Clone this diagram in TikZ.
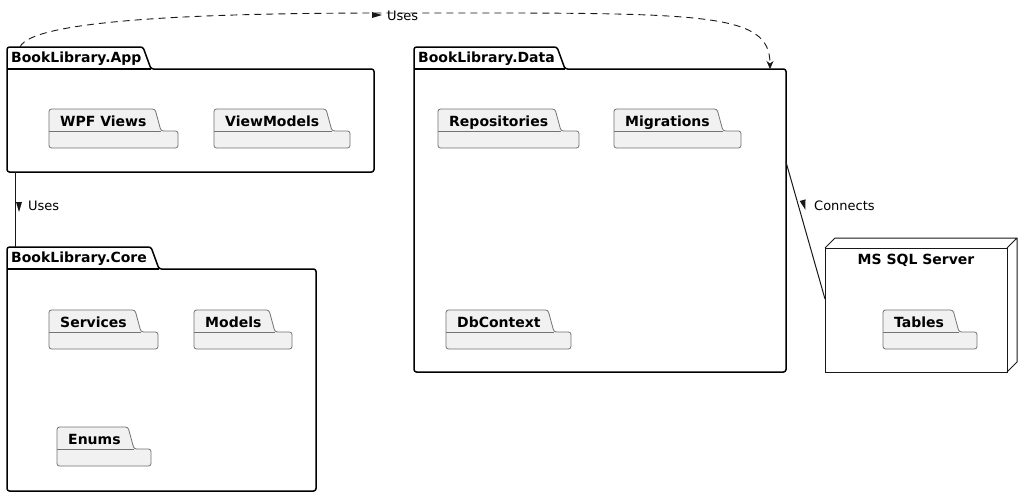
\documentclass[tikz,border=0pt]{standalone}
\usepackage{fontspec}
\setmainfont{DejaVu Sans}
\usetikzlibrary{arrows.meta}
\definecolor{pkgfill}{RGB}{241,241,241}
\definecolor{linedark}{RGB}{24,24,24}

\begin{document}
\begin{tikzpicture}[x=1pt,y=-1pt,
    body/.style={draw=none,anchor=north west,inner sep=0pt,outer sep=0pt},
    pkgline/.style={draw=black,line width=1.5pt,fill=white,rounded corners=2.5pt},
    subline/.style={draw=black!55,line width=0.8pt,fill=pkgfill,rounded corners=2.5pt},
    pkgtitle/.style={anchor=base west,inner sep=0pt,font=\fontsize{14}{16}\selectfont\bfseries},
    lbl/.style={anchor=base west,inner sep=0pt,font=\fontsize{13}{15}\selectfont},
    link/.style={draw=linedark,line width=1pt},
    uses/.style={draw=linedark,line width=0.9pt,dash pattern=on 7pt off 5pt,
      -{Stealth[length=8pt,width=7pt,inset=2.5pt]}},
    dbnode/.style={draw=linedark,line width=1pt,fill=white,inner sep=0pt,outer sep=0pt}]
  \useasboundingbox (0,0) rectangle (1033,496);

  % outer packages
  \foreach \nm/\x/\y/\w/\h/\tw/\txt in {
      app/7/69/367/103/136/BookLibrary.App,
      data/414/69/372/303/143/BookLibrary.Data,
      core/7/269/309/222/144/BookLibrary.Core}{
    \node[body,minimum width=\w pt,minimum height=\h pt] (\nm) at (\x,\y) {};
    \draw[pkgline] (\nm.south west) -- (\nm.north west) -- ++(0,-22) -- ++(\tw,0)
      -- ++(8,22) -- (\nm.north east) -- (\nm.south east) -- cycle;
    \draw[pkgline,fill=none] (\nm.north west) -- ++(\tw+8,0);
    \node[pkgtitle] at ([xshift=4pt,yshift=7pt]\nm.north west) {\txt};
  }

  % database node
  \node[dbnode,minimum width=182pt,minimum height=124pt] (sqlsrv) at (916,310) {};
  \draw[dbnode,fill=none] (sqlsrv.north west) -- ++(10,-10) -- ++(182,0) -- ++(0,124)
    -- (sqlsrv.south east) (sqlsrv.north east) -- ++(10,-10);
  \node[pkgtitle,anchor=base] at ([yshift=-16pt]sqlsrv.north) {MS SQL Server};

  % inner packages
  \foreach \nm/\x/\y/\w/\tw/\txt in {
      views/49/131/129/106/WPF Views,
      vmodels/214/131/136/112/ViewModels,
      repos/438/131/141/117/Repositories,
      migr/614/131/127/103/Migrations,
      dbctx/446/332/125/102/DbContext,
      services/49/332/109/86/Services,
      models/194/332/98/75/Models,
      enums/57/449/94/71/Enums,
      tables/883/332/94/70/Tables}{
    \node[body,minimum width=\w pt,minimum height=17pt] (\nm) at (\x,\y) {};
    \draw[subline] (\nm.south west) -- (\nm.north west) -- ++(0,-22) -- ++(\tw,0)
      -- ++(6,22) -- (\nm.north east) -- (\nm.south east) -- cycle;
    \draw[subline,fill=none] (\nm.north west) -- ++(\tw+6,0);
    \node[pkgtitle] at ([xshift=11pt,yshift=5pt]\nm.north west) {\txt};
  }

  % connectors
  \draw[uses] ([xshift=13pt,yshift=22pt]app.north west) .. controls (32,20) and (200,13)
    .. (385,13) .. controls (700,13) and (770,10) .. ([xshift=-16pt]data.north east);
  \fill[linedark] (372,12) -- (382,15) -- (372,18) -- cycle;
  \node[lbl] (usestop) at (387,20) {Uses};

  \draw[link] ([xshift=8pt]app.south west) -- ([xshift=8pt,yshift=22pt]core.north west);
  \fill[linedark] (16,202) -- (22,202) -- (19,212) -- cycle;
  \node[lbl] (usesleft) at (28,210) {Uses};

  \draw[link] ([yshift=-93pt]data.north east) -- ([yshift=11pt]sqlsrv.west);
  \fill[linedark] (805.5,199.4) -- (805.4,209.8) -- (799.7,201) -- cycle;
  \node[lbl] (connects) at (814,210) {Connects};
\end{tikzpicture}
\end{document}
